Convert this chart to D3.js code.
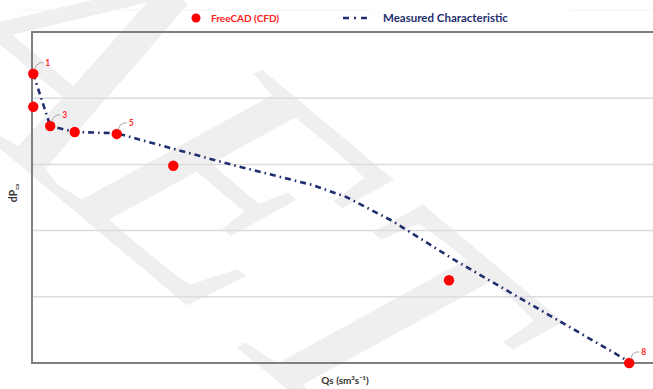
<!DOCTYPE html>
<html><head><meta charset="utf-8">
<script src="https://cdn.jsdelivr.net/npm/d3@7"></script>
<style>body{margin:0;background:#fff}svg{display:block}</style>
</head><body>
<script>
// ---- data (arbitrary units) ----
const cfdQs   = [0.2, 0.2, 2.9, 6.8, 13.5, 22.5, 66.4, 95.1];
const cfdDp   = [4.37, 3.87, 3.58, 3.49, 3.46, 2.98, 1.25, 0.0];
const cfdLabels = ["1", "", "3", "", "5", "", "", "8"];
const measQs  = [0.2, 2.9, 6.8, 13.5, 32.0, 44.6, 50.0, 57.3, 67.2, 95.1];
const measDp  = [4.37, 3.58, 3.49, 3.47, 2.99, 2.69, 2.51, 2.15, 1.56, 0.02];
const yTicks  = [0, 1, 2, 3, 4, 5];
const seriesNames = ["FreeCAD (CFD)", "Measured Characteristic"];
const xTitle = "Qs (sm³s⁻¹)";
const watermark = "AET";

const W = 653, H = 389;
const m = {l: 32, t: 32, b: 26};
const svg = d3.select("body").append("svg").attr("width", W).attr("height", H)
  .style("font-family", "Lato, 'Open Sans', sans-serif");

// watermark
svg.append("text").text(watermark)
  .attr("transform", "translate(-114,53) rotate(40) skewX(-12)")
  .attr("font-family", "'Liberation Serif', serif").attr("font-style", "italic")
  .attr("font-size", 350).attr("fill", "#efefef");

const x = d3.scaleLinear().domain([0, 100]).range([m.l, 660]);
const y = d3.scaleLinear().domain([0, 5]).range([H - m.b, m.t]);

// faint legend box edges
svg.append("line").attr("x1", 20).attr("x2", 372).attr("y1", 10).attr("y2", 10).attr("stroke", "#f3f3f3");
svg.append("line").attr("x1", 570).attr("x2", 653).attr("y1", 10).attr("y2", 10).attr("stroke", "#f3f3f3");

// gridlines
svg.append("g").selectAll("line").data(yTicks.slice(1, -1)).join("line")
  .attr("x1", m.l).attr("x2", W).attr("y1", d => y(d)).attr("y2", d => y(d))
  .attr("stroke", "#dcdcdc").attr("stroke-width", 1.5);

// axes frame
const frame = svg.append("g").attr("stroke", "#7f7f7f").attr("stroke-width", 2);
frame.append("line").attr("x1", m.l).attr("x2", W).attr("y1", y(5)).attr("y2", y(5));
frame.append("line").attr("x1", m.l).attr("x2", W).attr("y1", y(0)).attr("y2", y(0));
frame.append("line").attr("x1", m.l).attr("x2", m.l).attr("y1", y(5) - 1).attr("y2", y(0) + 1);

// measured line
const meas = measQs.map((q, i) => [q, measDp[i]]);
svg.append("path").datum(meas)
  .attr("d", d3.line().x(d => x(d[0])).y(d => y(d[1])))
  .attr("fill", "none").attr("stroke", "#1f2f6e").attr("stroke-width", 2.6)
  .attr("stroke-dasharray", "6,4,1.6,4");

// CFD points
const cfd = cfdQs.map((q, i) => ({q, d: cfdDp[i], lab: cfdLabels[i]}));
svg.append("g").selectAll("circle").data(cfd).join("circle")
  .attr("cx", d => x(d.q)).attr("cy", d => y(d.d)).attr("r", 5.2).attr("fill", "#ff0000");

// labels with leader lines
const lab = svg.append("g").selectAll("g").data(cfd.filter(d => d.lab)).join("g")
  .attr("transform", d => `translate(${x(d.q)},${y(d.d)})`);
lab.append("path").attr("d", "M1,-4 Q3,-10 7,-11 L10,-11")
  .attr("fill", "none").attr("stroke", "#a6a6a6").attr("stroke-width", 1);
lab.append("text").text(d => d.lab).attr("x", 12).attr("y", -8)
  .attr("fill", "#ff2a2a").attr("font-size", 8.5).attr("font-weight", "bold");

// legend
svg.append("circle").attr("cx", 196).attr("cy", 18).attr("r", 4.5).attr("fill", "#ff0000");
svg.append("text").text(seriesNames[0]).attr("x", 211).attr("y", 22)
  .attr("fill", "#ff2020").attr("font-size", 10).attr("font-weight", "bold");
svg.append("line").attr("x1", 343).attr("x2", 371).attr("y1", 18).attr("y2", 18)
  .attr("stroke", "#1f2f6e").attr("stroke-width", 2.4).attr("stroke-dasharray", "6,5,2,5");
svg.append("text").text(seriesNames[1]).attr("x", 383).attr("y", 22)
  .attr("fill", "#1f2f6e").attr("font-size", 11.5).attr("font-weight", "bold");

// axis titles
svg.append("text").attr("x", 345).attr("y", 384).attr("text-anchor", "middle")
  .attr("fill", "#333").attr("font-size", 10).attr("font-weight", "bold").text(xTitle);
const yt = svg.append("text").attr("transform", "translate(17,193) rotate(-90)")
  .attr("text-anchor", "middle").attr("fill", "#333").attr("font-size", 10.5).attr("font-weight", "bold");
yt.append("tspan").text("dP");
yt.append("tspan").text("ca").attr("font-size", 6).attr("dy", 2);
</script>
</body></html>
